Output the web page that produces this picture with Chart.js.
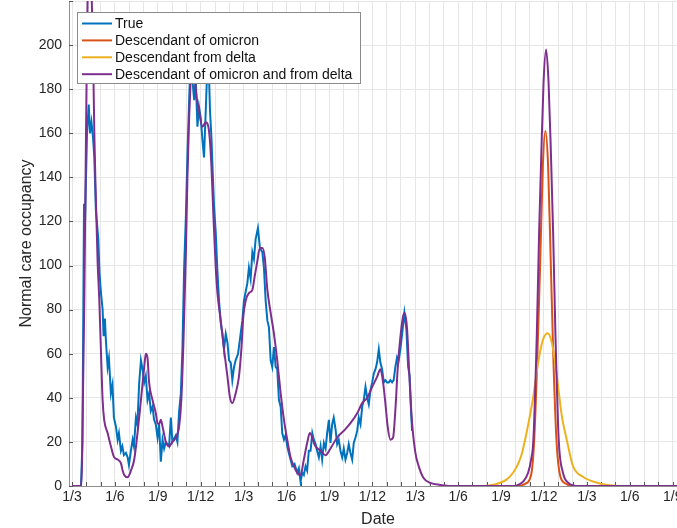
<!DOCTYPE html>
<html><head><meta charset="utf-8">
<script src="https://cdn.jsdelivr.net/npm/chart.js@4"></script>
<style>html,body{margin:0;padding:0;overflow:hidden;background:#fff;width:677px;height:528px}canvas{display:block}</style>
</head><body><canvas id="c" width="688" height="528"></canvas>
<script>
// x values are months since 1 March 2020 (0 = 1/3/2020)
const xTickLabels = ['1/3','1/6','1/9','1/12','1/3','1/6','1/9','1/12','1/3','1/6','1/9','1/12','1/3','1/6','1/9'];
const seriesLabels = ['True','Descendant of omicron','Descendant from delta','Descendant of omicron and from delta'];

const trueMonth = [0,0.63,0.73,0.84,0.91,1.05,1.17,1.26,1.36,1.47,1.56,1.67,1.84,1.92,2.02,2.14,2.21,2.30,2.37,2.49,2.58,2.72,2.83,2.93,3.07,3.19,3.28,3.42,3.52,3.63,3.77,3.89,3.98,4.12,4.24,4.33,4.47,4.57,4.70,4.82,4.93,5.05,5.16,5.28,5.39,5.51,5.63,5.74,5.86,5.98,6.09,6.21,6.33,6.44,6.56,6.79,6.91,7.02,7.26,7.37,7.49,7.61,7.72,7.84,7.96,8.07,8.19,8.30,8.41,8.54,8.65,8.77,8.88,9.00,9.12,9.23,9.35,9.47,9.58,9.65,9.75,9.84,9.93,10.05,10.17,10.28,10.40,10.52,10.63,10.75,10.87,10.98,11.10,11.21,11.33,11.44,11.61,11.79,11.91,12.02,12.14,12.26,12.37,12.49,12.61,12.72,12.84,13.00,13.14,13.31,13.42,13.54,13.66,13.77,13.89,14.00,14.12,14.24,14.35,14.47,14.59,14.70,14.82,14.93,15.05,15.16,15.28,15.40,15.56,15.75,15.86,15.98,16.10,16.21,16.33,16.44,16.56,16.68,16.80,16.91,17.03,17.14,17.26,17.38,17.49,17.61,17.73,17.84,17.96,18.07,18.19,18.30,18.42,18.54,18.65,18.77,18.89,19.00,19.12,19.24,19.35,19.47,19.59,19.70,19.82,19.94,20.05,20.17,20.29,20.40,20.52,20.64,20.75,20.87,20.99,21.10,21.22,21.33,21.45,21.56,21.68,21.80,21.91,22.03,22.15,22.26,22.38,22.49,22.61,22.73,22.84,22.96,23.10,23.24,23.38,23.50,23.61,23.71,23.78];
const trueOccupancy = [0,0,20,128,120,160,173,160,165,158,149,125,112,97,88,80,68,76,66,54,58,42,46,31,27,21,24,16,18,14,15,13,9.5,16,21,18,31,28,47,57,53,47,50,39,42,34,36,30,28,22,28,11,21,17,20,18,31,20,23,20,34,42,62,99,122,150,175,195,185,175,185,163,172,167,157,149,170,192,186,170,158,142,127,115,97,84,74,69,62,69,65,57,56,48,54,57,60,69,75,84,88,92,99,94,106,103,112,117,108,106,99,84,75,72,57,54,63,54,53,39,36,24,21,23,18,15,12,9,10,6,8,2,6,5,9,7,16,16,24,21,19,16,13,18,12,19.5,17,24,30,19.5,28,31,26,19,21,16,13,17,12,15,19,15,12,19.5,22,25,31,28,36,39,45,40,37,43.5,47,51,53,56,62,56,53,47,48,47,47,48,47,48,54,58.5,57,62,70,78.5,71,54,50,33,25];

const omicronMonth = [25.75,31.19,31.68,32.10,32.31,32.52,32.73,32.92,33.10,33.29,33.48,33.67,33.88,34.12,34.54,34.96,43];
const omicronOccupancy = [0,0,1,5,20,55,100,145,161,145,100,55,20,5,1,0,0];

const deltaMonth = [25.75,28.8,29.24,29.94,30.40,30.84,31.19,31.47,31.68,31.96,32.24,32.50,32.73,32.96,33.27,33.55,33.78,34.01,34.24,34.59,35.03,35.73,36.71,37.61,38.31,43];
const deltaOccupancy = [0,0,0.3,1.5,3,6,10,15,21,30,40,52,61,67,69.3,65,56,44,32,21,9,4.2,1.5,0.3,0,0];

const bothMonth = [0,0.63,0.70,0.86,0.98,1.10,1.22,1.33,1.49,1.56,1.67,1.79,1.91,2.02,2.14,2.25,2.49,2.72,2.95,3.19,3.42,3.54,3.65,3.89,4.12,4.35,4.58,4.82,5.05,5.16,5.28,5.39,5.63,5.86,5.98,6.09,6.21,6.33,6.56,6.79,7.02,7.26,7.49,7.65,7.79,7.96,8.07,8.19,8.30,8.42,8.54,8.65,8.88,9.12,9.35,9.58,9.75,9.89,10.05,10.17,10.40,10.63,10.87,11.05,11.21,11.44,11.67,11.84,11.98,12.14,12.37,12.61,12.77,12.96,13.14,13.31,13.47,13.66,13.89,14.12,14.35,14.59,14.82,15.05,15.28,15.51,15.75,15.98,16.21,16.44,16.63,16.80,16.91,17.03,17.38,17.73,18.07,18.54,19.00,19.47,19.94,20.29,20.64,20.99,21.33,21.56,21.75,21.91,22.07,22.26,22.45,22.61,22.77,22.96,23.15,23.26,23.43,23.61,23.78,24.01,24.24,24.58,25.05,25.75,26.5,31.0,31.19,31.54,31.89,32.10,32.26,32.50,32.66,32.82,32.97,33.15,33.32,33.48,33.64,33.80,34.03,34.33,34.68,35.03,35.52,43];
const bothOccupancy = [0,0,10,84,160,225,245,235,190,160,130,102,84,62,39,30,24,18,13,12,10.4,7,5,4,7,12,24,39,54,60,58,47,39,33,28.5,28,30,27,20,18,20,22,27,40,65,105,140,167,185,200,192,180,170,163,165,161,145,122,99,87.5,75,62,49.5,40,37.6,42,49.5,62,77,84,87.5,89,95,102,108,108,104,89,78.5,69,57,42,30,21,13,9,6,5,12,19.5,24,22,19.5,18,16,14,17,22,25,28.5,33,37.6,40,45,49.5,53,47,37.6,27,21,22,34.5,53,67.5,77,78.5,71,47,28.5,15,9,3.6,1.4,0.5,0,0,0.5,2,6,12,21,69,115,152,183,198,183,152,115,69,21,6,1.5,0.3,0,0];

const colors = ['#0072BD','#D95319','#EDB120','#7E2F8E'];
const FONT = '"Liberation Sans", Arial, Helvetica, sans-serif';
const TXT = '#262626';

function pts(xs, ys){ return xs.map((x,i)=>({x:x, y:ys[i]})); }

const innerTicks = {
  id: 'innerTicks',
  beforeDatasetsDraw(chart){
    const ctx = chart.ctx, xs = chart.scales.x, ys = chart.scales.y, a = chart.chartArea;
    ctx.save();
    ctx.strokeStyle = '#555';
    ctx.lineWidth = 1;
    ctx.beginPath();
    xs.ticks.forEach(t => { const px = Math.round(xs.getPixelForValue(t.value)) + 0.5; ctx.moveTo(px, a.bottom); ctx.lineTo(px, a.bottom - 4); });
    ys.ticks.forEach(t => { const py = Math.round(ys.getPixelForValue(t.value)) + 0.5; ctx.moveTo(a.left, py); ctx.lineTo(a.left + 4, py); });
    ctx.stroke();
    ctx.restore();
  }
};

const boxLegend = {
  id: 'boxLegend',
  afterDraw(chart){
    const ctx = chart.ctx;
    const bx = 77.5, by = 12.5, bw = 283, bh = 71;
    ctx.save();
    ctx.fillStyle = '#fff';
    ctx.fillRect(bx, by, bw, bh);
    ctx.strokeStyle = '#8a8a8a';
    ctx.lineWidth = 1;
    ctx.strokeRect(bx, by, bw, bh);
    ctx.font = '14px ' + FONT;
    ctx.textBaseline = 'middle';
    chart.data.datasets.forEach((ds, i) => {
      const y = 23.5 + i * 16.9;
      ctx.strokeStyle = ds.borderColor;
      ctx.lineWidth = 2;
      ctx.beginPath(); ctx.moveTo(82, y); ctx.lineTo(112, y); ctx.stroke();
      ctx.fillStyle = '#111';
      ctx.fillText(ds.label, 115, y + 0.5);
    });
    ctx.restore();
  }
};

const mk = (i, xs, ys, order, smooth) => ({
  label: seriesLabels[i], data: pts(xs, ys), borderColor: colors[i], backgroundColor: colors[i],
  borderWidth: 2, pointRadius: 0, fill: false, order: order,
  cubicInterpolationMode: smooth ? 'monotone' : 'default', tension: 0
});

new Chart(document.getElementById('c'), {
  type: 'line',
  data: { datasets: [
    mk(0, trueMonth, trueOccupancy, 3, false),
    mk(1, omicronMonth, omicronOccupancy, 2, true),
    mk(2, deltaMonth, deltaOccupancy, 1, true),
    mk(3, bothMonth, bothOccupancy, 0, true)
  ]},
  options: {
    responsive: false, animation: false, devicePixelRatio: 1,
    layout: { padding: { top: 1, right: 1, left: 0, bottom: 0 } },
    plugins: { legend: { display: false }, tooltip: { enabled: false } },
    scales: {
      x: {
        type: 'linear', min: -0.21, max: 43,
        afterBuildTicks: s => {
          const t = [];
          for (let m = 0; m <= 43; m++) t.push({ value: m });
          s.ticks = t;
        },
        ticks: { autoSkip: false, maxRotation: 0, padding: 3, color: TXT,
          font: { family: FONT, size: 14 },
          callback: v => (v % 3 === 0 ? (xTickLabels[v / 3] || '') : '') },
        grid: { color: '#e6e6e6', drawTicks: false, lineWidth: 1 },
        border: { color: '#8f8f8f', width: 1 },
        title: { display: true, text: 'Date', color: TXT, font: { family: FONT, size: 16, lineHeight: 1 }, padding: 0 },
        afterFit: s => { s.height = 42; s.paddingLeft = 0; s.paddingRight = 0; }
      },
      y: {
        min: 0, max: 220,
        ticks: { stepSize: 20, padding: 7, color: TXT, font: { family: FONT, size: 14 },
          callback: v => (v === 220 ? '' : v) },
        grid: { color: '#e6e6e6', drawTicks: false, lineWidth: 1 },
        border: { color: '#8f8f8f', width: 1 },
        title: { display: true, text: 'Normal care occupancy', color: TXT, font: { family: FONT, size: 16, lineHeight: 1 }, padding: { top: 19, bottom: 0 } },
        afterFit: s => { s.width = 69; s.paddingTop = 0; s.paddingBottom = 0; }
      }
    }
  },
  plugins: [innerTicks, boxLegend]
});
</script>
</body></html>
